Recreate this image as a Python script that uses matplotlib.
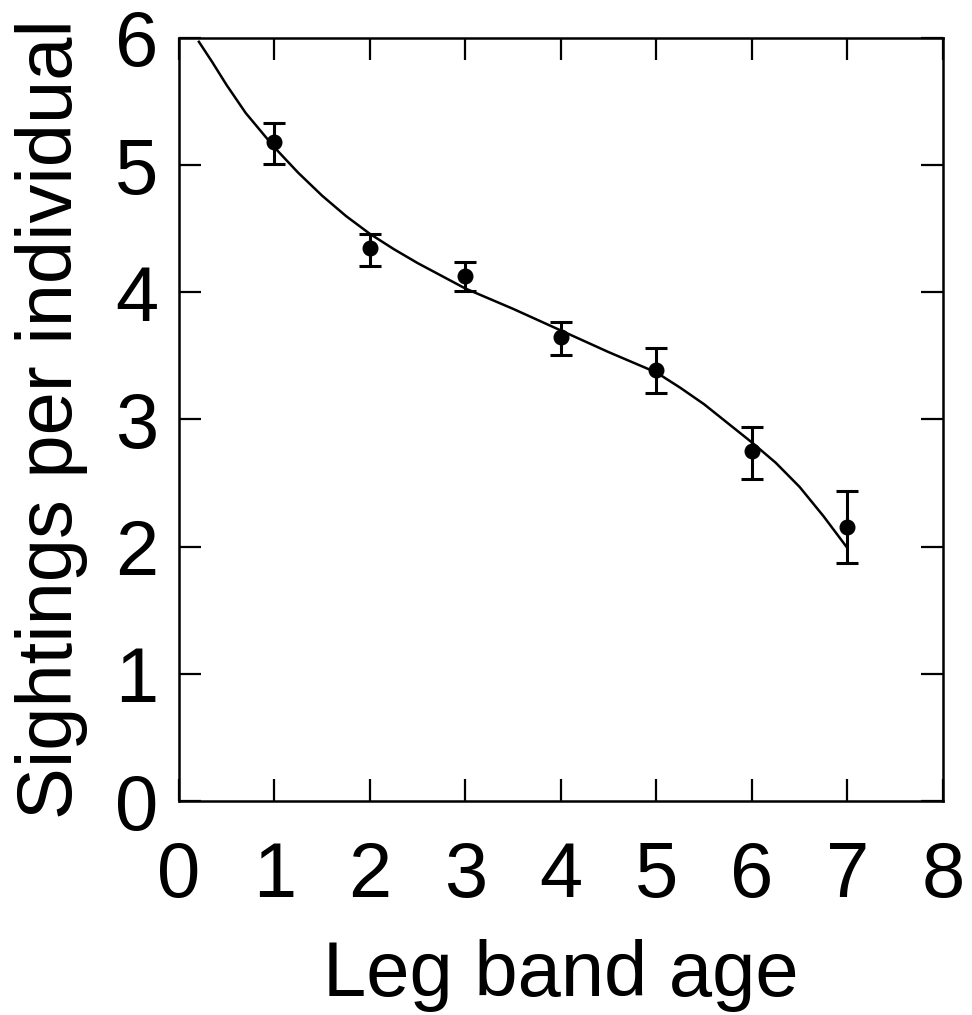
import numpy as np
import matplotlib.pyplot as plt

plt.rcParams['font.family'] = ['Liberation Sans', 'DejaVu Sans']

# observed means with error bars
age = [1, 2, 3, 4, 5, 6, 7]
sightings = [5.18, 4.35, 4.13, 3.65, 3.39, 2.75, 2.155]
err_hi = [5.33, 4.46, 4.24, 3.77, 3.56, 2.94, 2.44]
err_lo = [5.01, 4.21, 4.01, 3.51, 3.21, 2.53, 1.87]

# fitted curve
fit_x = [0.21, 0.35, 0.5, 0.7, 1.0, 1.25, 1.5, 1.75, 2.0, 2.25, 2.5, 2.75, 3.0,
         3.5, 4.0, 4.5, 5.0, 5.25, 5.5, 5.75, 6.0, 6.25, 6.5, 6.75, 7.0]
fit_y = [5.97, 5.81, 5.63, 5.41, 5.14, 4.94, 4.76, 4.60, 4.46, 4.34, 4.23, 4.13, 4.03,
         3.87, 3.70, 3.53, 3.37, 3.25, 3.12, 2.97, 2.82, 2.66, 2.47, 2.24, 1.99]

fig = plt.figure(figsize=(9.72, 10.15), dpi=100)
ax = fig.add_axes([0.184, 0.2108, 0.786, 0.7518])

yerr = [np.array(sightings) - np.array(err_lo), np.array(err_hi) - np.array(sightings)]
ax.errorbar(age, sightings, yerr=yerr, fmt='o', color='black', ms=10.5,
            elinewidth=2.2, capsize=8, capthick=2.2, zorder=3)
ax.plot(fit_x, fit_y, color='black', lw=1.8)

ax.set_xlim(0, 8)
ax.set_ylim(0, 6)
ax.set_xticks(range(0, 9))
ax.set_yticks(range(0, 7))
ax.tick_params(direction='in', length=16, width=1.6, top=True, right=True,
               labelsize=56)
ax.tick_params(axis='x', pad=28)
ax.tick_params(axis='y', pad=15)
for s in ax.spines.values():
    s.set_linewidth(1.8)

ax.set_xlabel('Leg band age', fontsize=56, labelpad=19)
ax.set_ylabel('Sightings per individual', fontsize=56, labelpad=19)

fig.savefig('out.png', dpi=100)
